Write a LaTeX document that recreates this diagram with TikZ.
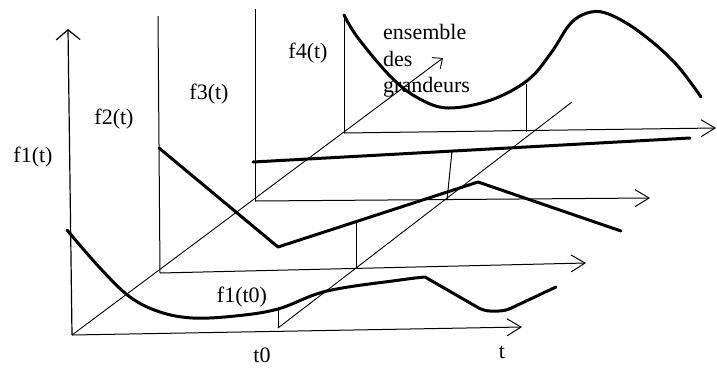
\documentclass[tikz,border=0pt]{standalone}
\usepackage{fontspec}
\setmainfont{Liberation Serif}
\usetikzlibrary{arrows.meta}
\tikzset{
  ax/.style={line width=1pt, -{Straight Barb[length=14pt,width=17pt]}},
  upax/.style={line width=1.2pt, -{Straight Barb[length=10pt,width=24pt]}},
  bar/.style={line width=1pt},
  diag/.style={line width=0.9pt},
  crv/.style={line width=3pt, line cap=round, line join=round},
  lab/.style={font=\fontsize{22}{26}\selectfont, inner sep=0pt},
}
\begin{document}
\begin{tikzpicture}[x=1pt, y=-1pt]
  \useasboundingbox (0,0) rectangle (717,368);
  % origins of the four planes
  \coordinate (o1) at (72,335);
  \coordinate (o2) at (160,273);
  \coordinate (o3) at (255,201);
  \coordinate (o4) at (344,133);
  % ends of the axes
  \coordinate (y1) at (68,29);
  \coordinate (x1) at (522,327);
  \coordinate (y2) at (158,16);
  \coordinate (x2) at (586,263);
  \coordinate (y3) at (255,9);
  \coordinate (x3) at (650,198);
  \coordinate (y4) at (344,15);
  \coordinate (x4) at (716,128);
  \coordinate (g)  at (443,58);
  % the t0 line and its feet on each plane
  \coordinate (a0) at (278,328);
  \coordinate (a1) at (572,102);
  \coordinate (t1) at (278,309);
  \coordinate (b2) at (356,268);
  \coordinate (t2) at (356,222);
  \coordinate (b3) at (447,200);
  \coordinate (t3) at (452,151);
  \coordinate (b4) at (526,132);
  \coordinate (t4) at (526,84);

  % axes
  \draw[upax] (o1) -- (y1);
  \draw[ax] (o1) -- (x1);
  \draw[bar] (o2) -- (y2);
  \draw[ax] (o2) -- (x2);
  \draw[bar] (o3) -- (y3);
  \draw[ax] (o3) -- (x3);
  \draw[bar] (o4) -- (y4);
  \draw[ax] (o4) -- (x4);
  \draw[diag, -{Straight Barb[length=8pt,width=14pt]}] (o1) -- (g);
  \draw[diag] (a0) -- (a1);
  \draw[bar] (a0) -- (t1);
  \draw[bar] (b2) -- (t2);
  \draw[bar] (b3) -- (t3);
  \draw[bar] (b4) -- (t4);

  % the four curves
  \draw[crv] plot[smooth, tension=0.6] coordinates {(67,230) (100,268) (130,297)
    (160,312) (193,318) (235,316) (278,309) (327,291) (400,280) (425,277)}
    [rounded corners=6pt] -- (484,311) -- (505,311) -- (556,287);
  \draw[crv] (159,148) -- (278,247) -- (478,182) -- (621,231);
  \draw[crv] (253,162) -- (690,138);
  \draw[crv] plot[smooth, tension=0.6] coordinates {(344,15) (358,38) (391,77)
    (418,98) (448,108) (491,100) (528,80) (551,53) (571,23) (591,12) (611,15)
    (641,33) (675,63) (701,97)};

  % labels
  \node[lab] (lf1)  at (33,157) {f1(t)};
  \node[lab] (lf2)  at (114,119) {f2(t)};
  \node[lab] (lf3)  at (209,94) {f3(t)};
  \node[lab] (lf4)  at (308,53) {f4(t)};
  \node[lab] (lf10) at (242,297) {f1(t0)};
  \node[lab] (lt0)  at (262,355) {t0};
  \node[lab] (lt)   at (502,352) {t};
  \node[lab, anchor=base west] (gr1) at (383,39) {ensemble};
  \node[lab, anchor=base west] (gr2) at (383,66) {des};
  \node[lab, anchor=base west] (gr3) at (383,92) {grandeurs};
\end{tikzpicture}
\end{document}
